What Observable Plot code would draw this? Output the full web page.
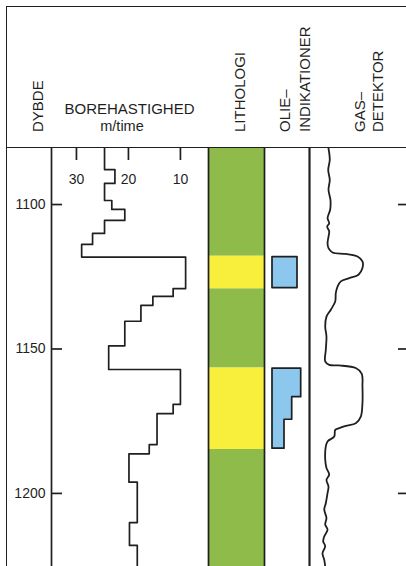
<!DOCTYPE html>
<html><head><meta charset="utf-8">
<script src="https://cdn.jsdelivr.net/npm/d3@7"></script>
<script src="https://cdn.jsdelivr.net/npm/@observablehq/plot@0.6"></script>
<style>
body{margin:0;background:#fff;}
#chart{position:relative;width:406px;height:566px;overflow:hidden;background:#fff;font-family:"Liberation Sans",Arial,sans-serif;color:#1f1f1f;}
.track{position:absolute;top:148px;}
.track svg{overflow:visible;display:block;}
.hline{position:absolute;border-top:1.8px solid #1f1f1f;height:0;}
.vline{position:absolute;border-left:1.8px solid #1f1f1f;width:0;}
</style></head><body><div id="chart"></div><script>
// ---- data ----
const depthTicks = [1100, 1150, 1200];
const rateTicks = [30, 20, 10];
const depthDomain = [1080.6, 1225.3];

// Borehastighed (m/time): depth at top of each step, value of step
const rateDepth = [1080.6, 1087.9, 1092.7, 1098.6, 1101.7, 1105.5, 1110.0, 1113.8, 1118.2, 1129.1, 1131.8, 1134.9, 1140.4, 1148.9, 1157.1, 1169.2, 1172.4, 1183.1, 1186.3, 1196.1, 1210.1, 1218.0, 1225.3];
const rateValue = [24.6, 22.6, 24.6, 23.2, 20.7, 24.6, 26.9, 29.0, 9.0, 11.4, 15.3, 17.6, 20.7, 23.8, 10.0, 11.4, 14.5, 16.0, 19.9, 18.3, 19.8, 18.3, 18.3];

// Lithologi
const lithoTop = [1080.6, 1117.9, 1129.2, 1156.6, 1184.8];
const lithoBottom = [1117.9, 1129.2, 1156.6, 1184.8, 1225.3];
const lithoType = ["lersten", "sandsten", "lersten", "sandsten", "lersten"];
const lithoTypes = ["lersten", "sandsten"];
const lithoColors = ["#8fbb4b", "#f8ef3c"];

// Olieindikationer
const oilBox = [1, 1, 2, 2, 2, 2];
const oilDepth = [1118.2, 1128.9, 1156.8, 1166.7, 1174.5, 1184.5];
const oilValue = [25, 25, 28.7, 19.7, 12, 12];

// Gasdetektor
const gasDepth = [1080.6, 1084.5, 1088.0, 1091.5, 1094.9, 1098.4, 1101.8, 1104.7, 1106.5, 1107.6, 1109.3, 1111.1, 1113.4, 1115.1, 1116.6, 1117.1, 1118.0, 1119.7, 1122.0, 1124.3, 1125.5, 1126.6, 1128.4, 1130.7, 1133.6, 1136.4, 1138.8, 1142.2, 1145.7, 1150.3, 1154.3, 1155.5, 1155.7, 1156.6, 1158.6, 1163.0, 1168.8, 1173.4, 1175.7, 1176.6, 1177.4, 1178.0, 1180.3, 1182.0, 1183.7, 1188.3, 1191.2, 1193.5, 1195.3, 1197.6, 1199.9, 1203.4, 1205.6, 1208.5, 1210.8, 1212.6, 1214.9, 1216.6, 1218.3, 1220.7, 1223.0, 1225.3];
const gasValue = [19.6, 20.9, 19.3, 20.9, 19.6, 21.6, 21.3, 18.6, 20.3, 18.2, 20.3, 19.6, 18.6, 19.6, 23.7, 37.4, 49.5, 54.6, 54.6, 50.5, 40.9, 32.3, 28.9, 27.1, 26.5, 22.0, 17.5, 16.2, 17.5, 16.8, 16.2, 20.3, 30.6, 47.7, 53.9, 54.6, 54.6, 52.9, 47.7, 37.4, 30.6, 26.5, 25.5, 18.6, 16.8, 16.2, 17.5, 20.3, 17.5, 19.6, 18.6, 16.8, 15.2, 17.5, 16.2, 18.6, 15.2, 14.1, 16.2, 13.4, 15.2, 16.2];

// ---- build ----
const INK = "#1f1f1f";
const SW = 1.7;
const FONT = '"Liberation Sans", Arial, sans-serif';
const H = 418;
const chart = document.getElementById("chart");

const ratePts = rateDepth.map((d, i) => ({depth: d, rate: rateValue[i]}));
const litho = lithoTop.map((t, i) => ({top: t, bottom: lithoBottom[i], type: lithoType[i]}));
const oilPts = oilDepth.map((d, i) => ({box: oilBox[i], depth: d, value: oilValue[i]}));
const gasPts = gasDepth.map((d, i) => ({depth: d, gas: gasValue[i]}));

const common = {
  height: H, marginTop: 0, marginBottom: 0, marginLeft: 0, marginRight: 0,
  style: {background: "transparent", overflow: "visible", fontFamily: FONT, fontSize: "14px", color: INK}
};
const yScale = {domain: depthDomain, reverse: true};

function place(svg, left) {
  const d = document.createElement("div");
  d.className = "track";
  d.style.left = left + "px";
  d.appendChild(svg);
  chart.appendChild(d);
}

// Depth + rate track
place(Plot.plot({
  ...common, width: 201, marginLeft: 44,
  x: {domain: [34.8, 4.6], axis: null},
  y: yScale,
  marks: [
    Plot.ruleX([34.8], {stroke: INK, strokeWidth: SW}),
    Plot.axisY(depthTicks, {tickSize: 0, tickPadding: 6, tickFormat: d => String(d), label: null, fill: INK}),
    Plot.tickY(depthTicks, {y: d => d, insetRight: 157 - 11, stroke: INK, strokeWidth: SW}),
    Plot.tickX(rateTicks, {x: d => d, insetBottom: H - 12, stroke: INK, strokeWidth: SW}),
    Plot.text(rateTicks, {x: d => d, frameAnchor: "top", dy: 26, text: d => String(d), fill: INK, fontSize: 14}),
    Plot.line(ratePts, {x: "rate", y: "depth", curve: "step-before", stroke: INK, strokeWidth: SW})
  ]
}), 7);

// Lithology track
place(Plot.plot({
  ...common, width: 56,
  x: {domain: [0, 1], axis: null},
  y: {...yScale, axis: null},
  color: {domain: lithoTypes, range: lithoColors},
  marks: [
    Plot.rect(litho, {y1: "top", y2: "bottom", fill: "type"}),
    Plot.ruleX([0, 1], {stroke: INK, strokeWidth: SW})
  ]
}), 208);

// Oil indication track
place(Plot.plot({
  ...common, width: 45,
  x: {domain: [-8, 37], axis: null},
  y: {...yScale, axis: null},
  marks: [
    Plot.areaX(oilPts, {x1: 0, x2: "value", y: "depth", z: "box", curve: "step-before", fill: "#8cc7ee", stroke: INK, strokeWidth: SW}),
    Plot.ruleX([37], {stroke: INK, strokeWidth: SW})
  ]
}), 264);

// Gas detector track
place(Plot.plot({
  ...common, width: 97,
  x: {domain: [0, 100], axis: null},
  y: {...yScale, axis: null},
  marks: [
    Plot.ruleX([0], {stroke: INK, strokeWidth: SW}),
    Plot.line(gasPts, {x: "gas", y: "depth", curve: "catmull-rom", stroke: INK, strokeWidth: 1.8}),
    Plot.tickY(depthTicks, {y: d => d, insetLeft: 89, stroke: INK, strokeWidth: SW})
  ]
}), 309);

// Header
const hdr = d3.create("svg").attr("width", 406).attr("height", 148)
  .style("position", "absolute").style("left", "0px").style("top", "0px")
  .style("font-family", FONT).attr("fill", INK);
const rot = [
  {t: "DYBDE", x: 43},
  {t: "LITHOLOGI", x: 245},
  {t: "OLIE–", x: 290},
  {t: "INDIKATIONER", x: 310},
  {t: "GAS–", x: 365},
  {t: "DETEKTOR", x: 383}
];
hdr.selectAll("text.r").data(rot).join("text").attr("class", "r")
  .attr("transform", d => `translate(${d.x},132) rotate(-90)`)
  .attr("font-size", 15).text(d => d.t);
hdr.append("text").attr("x", 129.5).attr("y", 114).attr("text-anchor", "middle").attr("font-size", 15).text("BOREHASTIGHED");
hdr.append("text").attr("x", 122).attr("y", 131).attr("text-anchor", "middle").attr("font-size", 14.5).text("m/time");
chart.appendChild(hdr.node());

// Frame lines
function line(cls, css) { const d = document.createElement("div"); d.className = cls; Object.assign(d.style, css); chart.appendChild(d); }
line("hline", {left: "6px", top: "6px", width: "400px"});
line("hline", {left: "6px", top: "147px", width: "400px"});
line("vline", {left: "6px", top: "6px", height: "560px"});
</script></body></html>
